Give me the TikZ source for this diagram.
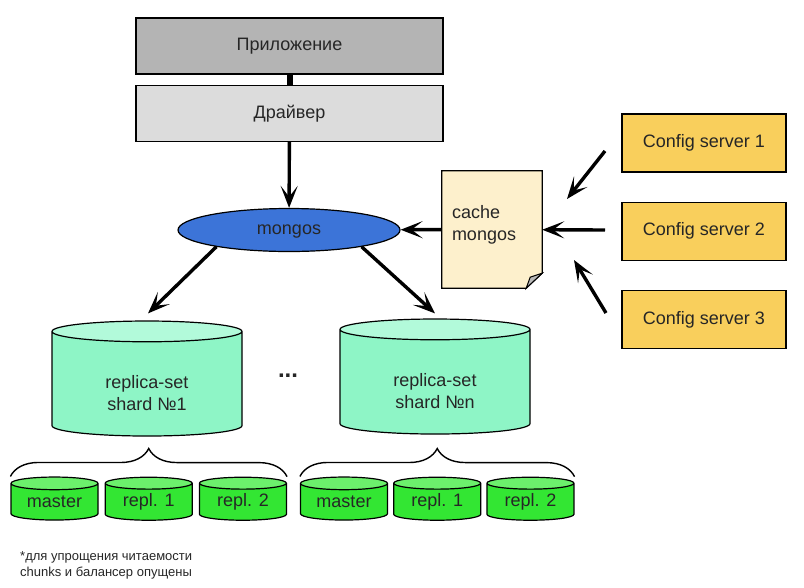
\documentclass[tikz,border=0pt]{standalone}
\usepackage{fontspec}
\setmainfont{Liberation Sans}
\usepackage{tikz}
\usetikzlibrary{shapes.geometric}
\usetikzlibrary{decorations.pathreplacing, backgrounds}
\usetikzlibrary{arrows.meta}
\usetikzlibrary{positioning}
\definecolor{appgray}{HTML}{B4B4B4}
\definecolor{drvgray}{HTML}{DCDCDC}
\definecolor{mongosblue}{HTML}{3C74D8}
\definecolor{cachecream}{HTML}{FDF0CC}
\definecolor{cfgyellow}{HTML}{F9CF5C}
\definecolor{shardbody}{HTML}{8EF5C6}
\definecolor{shardtop}{HTML}{B2FADA}
\definecolor{replbody}{HTML}{33E633}
\definecolor{repltop}{HTML}{6CF06C}
\newcommand{\shardlabel}[1]{\raisebox{-11pt}[\height][\depth]{\begin{tabular}{@{}c@{}}#1\end{tabular}}}
\tikzset{arch-line/.style={line width=3.4pt}}
\tikzset{>={Stealth[length=22pt, width=17pt, inset=11pt]}}
\tikzset{arch-text/.style={font=\fontsize{18}{22}\selectfont, text=black!85}}
\tikzset{layer-box/.style={draw, arch-text, line width=1.2pt, minimum width=307pt, minimum height=56pt}}
\tikzset{cfg-box/.style={draw, arch-text, line width=1.2pt, fill=cfgyellow, minimum width=164pt, minimum height=58pt}}
\tikzset{router/.style={draw, arch-text, ellipse, line width=1.2pt, fill=mongosblue, inner sep=0, text depth=0pt, minimum width=222pt, minimum height=43pt}}
\tikzset{shard-db/.style={draw, arch-text, cylinder, shape border rotate=90, aspect=0.25, line width=1.2pt, cylinder uses custom fill, cylinder body fill=shardbody, cylinder end fill=shardtop, inner sep=0, minimum width=190pt, minimum height=115pt}}
\tikzset{replica-db/.style={draw, arch-text, cylinder, shape border rotate=90, aspect=0.23, line width=1.2pt, cylinder uses custom fill, cylinder body fill=replbody, cylinder end fill=repltop, inner sep=0, minimum width=87pt, minimum height=43pt}}
\tikzset{brace-line/.style={line width=1.4pt, decorate, decoration={brace, amplitude=28pt}}}
\begin{document}
\begin{tikzpicture}[x=1pt, y=-1pt]
            \useasboundingbox (0,0) rectangle (804,587);

            \node[layer-box, fill=appgray] (app) at (289.5,46) {Приложение};
            \node[layer-box, fill=drvgray, below=10pt of app] (drv) {Драйвер};
            \node[router] (mongos) at (289,230) {mongos};

            \node[arch-text, align=left, minimum width=100pt, minimum height=117pt, text width=80pt, inner sep=10pt] (cache) at (492,229.5) {\raisebox{5pt}[\height][\depth]{cache}\\\raisebox{5pt}[\height][\depth]{mongos}};

            \node[cfg-box] (cfg1) at (704,143) {Config server 1};
            \node[cfg-box, below=29pt of cfg1] (cfg2) {Config server 2};
            \node[cfg-box, below=29pt of cfg2] (cfg3) {Config server 3};

            \node[shard-db] (shard1) at (147,384) {\shardlabel{replica-set\\shard №1}};
            \node[shard-db] (shardn) at (435,382) {\shardlabel{replica-set\\shard №n}};
            \node[arch-text, font=\fontsize{24}{24}\selectfont\bfseries] (gap) at (288,376) {...};

            \node[replica-db] (ma1) at (54.5,502) {master};
            \node[replica-db, right=6pt of ma1] (r11) {repl. 1};
            \node[replica-db, right=6pt of r11] (r12) {repl. 2};

            \node[replica-db] (ma2) at (344,502) {master};
            \node[replica-db, right=5pt of ma2] (r21) {repl. 1};
            \node[replica-db, right=5pt of r21] (r22) {repl. 2};

            \node[font=\fontsize{13}{16}\selectfont, text=black!85, align=left, anchor=north west, inner sep=0] (foot) at (20,551) {*для упрощения читаемости\\chunks и балансер опущены};

            % note with folded corner
            \begin{scope}[on background layer]
                \filldraw[fill=cachecream, line width=1.2pt] (cache.north west) -- (cache.north east) -- ([yshift=15pt]cache.south east) -- ([xshift=-16pt]cache.south east) -- (cache.south west) -- cycle;
            \end{scope}
            \filldraw[fill=gray!55, line width=1pt] ([yshift=15pt]cache.south east) -- ([xshift=-16pt]cache.south east) -- ([xshift=-12pt, yshift=11pt]cache.south east) -- cycle;

            \coordinate (c1) at (605,151);
            \coordinate (t1) at (567,199);
            \coordinate (c2) at (605,230);
            \coordinate (c3) at (606,313);
            \coordinate (t3) at (574,260);

            \draw[line width=6pt] (app) -- (drv);
            \draw[->, arch-line] (drv) -- (mongos);
            \draw[->, arch-line] (cache) -- (mongos);

            \draw[->, arch-line] (c1) -- (t1);
            \draw[->, arch-line] (c2) -- (cache);
            \draw[->, arch-line] (c3) -- (t3);

            \draw[->, arch-line] (mongos.-167) -- ([xshift=1pt, yshift=7pt]shard1.north);
            \draw[->, arch-line] (mongos.-13) -- ([yshift=5pt]shardn.north);

            \draw[brace-line] (ma1.west |- ma1.north) -- (r12.east |- r12.north);
            \draw[brace-line] (ma2.west |- ma2.north) -- (r22.east |- r22.north);
        \end{tikzpicture}
\end{document}
